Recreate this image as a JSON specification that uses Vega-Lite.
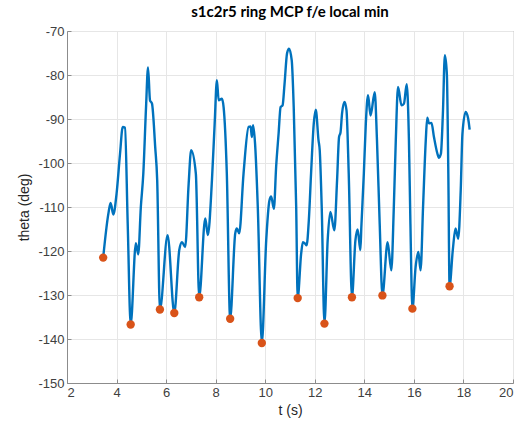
{
  "$schema": "https://vega.github.io/schema/vega-lite/v6.json",
  "width": 446,
  "height": 352,
  "autosize": {"type": "none"},
  "padding": {"left": 67, "top": 31, "right": 18, "bottom": 46},
  "background": "white",
  "title": {"text": "s1c2r5 ring MCP f/e local min", "font": "Lato", "fontSize": 15, "fontWeight": "bold", "color": "#000000", "anchor": "middle", "offset": 5},
  "config": {
    "view": {"stroke": "#8c8c8c", "strokeWidth": 1},
    "axis": {
      "gridColor": "#e6e6e6", "gridWidth": 1,
      "domainColor": "#8c8c8c", "tickColor": "#8c8c8c", "tickSize": -4,
      "labelColor": "#404040", "labelFont": "Liberation Sans", "labelFontSize": 13,
      "titleFont": "Liberation Sans", "titleFontSize": 14, "titleColor": "#262626", "titleFontWeight": "normal"
    }
  },
  "datasets": {
    "curve": [
      {"t": 3.46, "theta": -121.5}, {"t": 3.67, "theta": -111.5}, {"t": 3.76, "theta": -109.1}, {"t": 3.87, "theta": -111.7},
      {"t": 4.0, "theta": -107.0}, {"t": 4.14, "theta": -97.9}, {"t": 4.25, "theta": -91.8}, {"t": 4.34, "theta": -92.0},
      {"t": 4.45, "theta": -113.8}, {"t": 4.57, "theta": -136.7}, {"t": 4.78, "theta": -118.2}, {"t": 4.875, "theta": -120.75},
      {"t": 4.98, "theta": -110}, {"t": 5.08, "theta": -102.4}, {"t": 5.19, "theta": -87.3}, {"t": 5.27, "theta": -78.3},
      {"t": 5.35, "theta": -85.75}, {"t": 5.43, "theta": -86.5}, {"t": 5.56, "theta": -96.4}, {"t": 5.64, "theta": -103.9},
      {"t": 5.75, "theta": -133.3}, {"t": 6.06, "theta": -116.4}, {"t": 6.33, "theta": -134.1}, {"t": 6.53, "theta": -119.8},
      {"t": 6.64, "theta": -118}, {"t": 6.77, "theta": -119.1}, {"t": 6.91, "theta": -104.7}, {"t": 7.01, "theta": -97.1},
      {"t": 7.2, "theta": -102.4}, {"t": 7.335, "theta": -130.5}, {"t": 7.58, "theta": -112.6}, {"t": 7.685, "theta": -116.4},
      {"t": 7.85, "theta": -103.9}, {"t": 7.96, "theta": -91.0}, {"t": 8.05, "theta": -81.2}, {"t": 8.12, "theta": -85.75},
      {"t": 8.25, "theta": -85.4}, {"t": 8.32, "theta": -87.3}, {"t": 8.45, "theta": -102.4}, {"t": 8.585, "theta": -135.4},
      {"t": 8.79, "theta": -116.0}, {"t": 8.855, "theta": -114.9}, {"t": 8.95, "theta": -116.0}, {"t": 9.125, "theta": -102.4},
      {"t": 9.33, "theta": -91.8}, {"t": 9.41, "theta": -91.7}, {"t": 9.46, "theta": -94.1}, {"t": 9.51, "theta": -91.4},
      {"t": 9.59, "theta": -95.6}, {"t": 9.7, "theta": -110}, {"t": 9.863, "theta": -140.9}, {"t": 10.04, "theta": -117.6},
      {"t": 10.17, "theta": -108.5}, {"t": 10.24, "theta": -107.6}, {"t": 10.35, "theta": -110.4}, {"t": 10.44, "theta": -100.9},
      {"t": 10.54, "theta": -93.3}, {"t": 10.62, "theta": -87.3}, {"t": 10.7, "theta": -86.9}, {"t": 10.78, "theta": -82},
      {"t": 10.88, "theta": -75.1}, {"t": 10.96, "theta": -74.0}, {"t": 11.07, "theta": -76.7}, {"t": 11.15, "theta": -87.3},
      {"t": 11.25, "theta": -110}, {"t": 11.31, "theta": -130.7}, {"t": 11.45, "theta": -120.6}, {"t": 11.52, "theta": -118},
      {"t": 11.61, "theta": -118.3}, {"t": 11.67, "theta": -118.7}, {"t": 11.76, "theta": -113}, {"t": 11.85, "theta": -102.4},
      {"t": 11.96, "theta": -91}, {"t": 12.04, "theta": -87.9}, {"t": 12.15, "theta": -94.8}, {"t": 12.2, "theta": -97.1},
      {"t": 12.28, "theta": -110}, {"t": 12.39, "theta": -136.5}, {"t": 12.52, "theta": -117.6}, {"t": 12.63, "theta": -111.1},
      {"t": 12.79, "theta": -115.3}, {"t": 12.9, "theta": -103.9}, {"t": 12.98, "theta": -94.1}, {"t": 13.04, "theta": -93},
      {"t": 13.1, "theta": -88.8}, {"t": 13.2, "theta": -86.1}, {"t": 13.28, "theta": -88}, {"t": 13.37, "theta": -102.4},
      {"t": 13.5, "theta": -130.5}, {"t": 13.64, "theta": -117.6}, {"t": 13.73, "theta": -115.1}, {"t": 13.84, "theta": -119.8},
      {"t": 13.88, "theta": -114.5}, {"t": 13.98, "theta": -102.4}, {"t": 14.06, "theta": -91}, {"t": 14.15, "theta": -84.6},
      {"t": 14.25, "theta": -89.2}, {"t": 14.42, "theta": -83.9}, {"t": 14.51, "theta": -94.8}, {"t": 14.62, "theta": -113.8},
      {"t": 14.73, "theta": -130.1}, {"t": 14.94, "theta": -118}, {"t": 15.09, "theta": -124.4}, {"t": 15.19, "theta": -110},
      {"t": 15.27, "theta": -94.8}, {"t": 15.36, "theta": -82.7}, {"t": 15.5, "theta": -86.9}, {"t": 15.6, "theta": -86.5},
      {"t": 15.71, "theta": -82.1}, {"t": 15.8, "theta": -94.8}, {"t": 15.86, "theta": -113.8}, {"t": 15.94, "theta": -133.1},
      {"t": 16.07, "theta": -123.6}, {"t": 16.18, "theta": -120.2}, {"t": 16.27, "theta": -124.4}, {"t": 16.37, "theta": -110},
      {"t": 16.48, "theta": -94.8}, {"t": 16.54, "theta": -89.7}, {"t": 16.61, "theta": -91}, {"t": 16.71, "theta": -90.9},
      {"t": 16.81, "theta": -94.1}, {"t": 16.95, "theta": -97.9}, {"t": 17.01, "theta": -98.8}, {"t": 17.09, "theta": -97.9},
      {"t": 17.17, "theta": -88.8}, {"t": 17.25, "theta": -75.5}, {"t": 17.33, "theta": -79.7}, {"t": 17.39, "theta": -102.4},
      {"t": 17.44, "theta": -128.0}, {"t": 17.57, "theta": -119.8}, {"t": 17.68, "theta": -114.9}, {"t": 17.79, "theta": -117.2},
      {"t": 17.89, "theta": -106.2}, {"t": 17.96, "theta": -93.3}, {"t": 18.09, "theta": -88.4}, {"t": 18.19, "theta": -89.9},
      {"t": 18.25, "theta": -92.4}
    ],
    "mins": [
      {"t": 3.46, "theta": -121.5}, {"t": 4.57, "theta": -136.7}, {"t": 5.75, "theta": -133.3}, {"t": 6.33, "theta": -134.1},
      {"t": 7.335, "theta": -130.5}, {"t": 8.585, "theta": -135.4}, {"t": 9.863, "theta": -140.9}, {"t": 11.31, "theta": -130.7},
      {"t": 12.39, "theta": -136.5}, {"t": 13.5, "theta": -130.5}, {"t": 14.73, "theta": -130.1}, {"t": 15.94, "theta": -133.1},
      {"t": 17.44, "theta": -128.0}
    ]
  },
  "layer": [
    {
      "data": {"name": "curve"},
      "mark": {"type": "line", "color": "#0072BD", "strokeWidth": 2.4, "interpolate": "monotone"},
      "encoding": {
        "x": {"field": "t", "type": "quantitative", "scale": {"domain": [2, 20], "nice": false},
              "axis": {"title": "t (s)", "values": [2, 4, 6, 8, 10, 12, 14, 16, 18, 20], "labelPadding": 7, "titlePadding": 4}},
        "y": {"field": "theta", "type": "quantitative", "scale": {"domain": [-150, -70], "nice": false, "zero": false},
              "axis": {"title": "theta (deg)", "values": [-150, -140, -130, -120, -110, -100, -90, -80, -70], "labelPadding": 7, "titlePadding": 6,
                       "labelExpr": "replace(datum.label, '\u2212', '-')"}}
      }
    },
    {
      "data": {"name": "mins"},
      "mark": {"type": "point", "filled": true, "color": "#D95319", "size": 70, "opacity": 1},
      "encoding": {
        "x": {"field": "t", "type": "quantitative"},
        "y": {"field": "theta", "type": "quantitative"}
      }
    }
  ]
}
